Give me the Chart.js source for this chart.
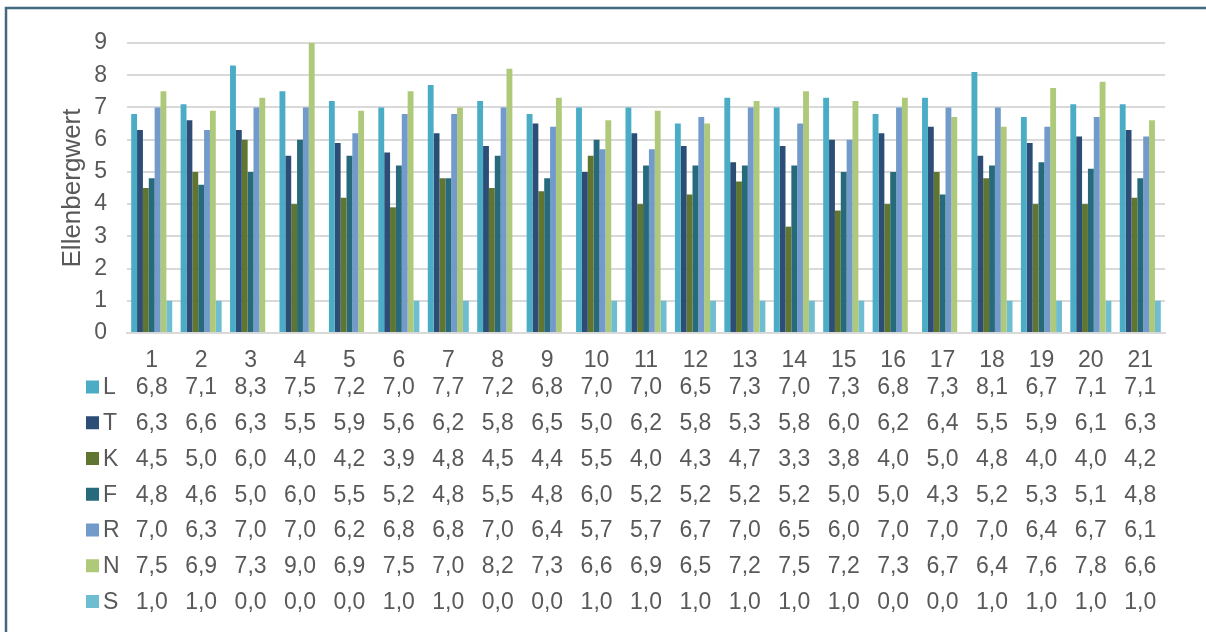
<!DOCTYPE html>
<html>
<head>
<meta charset="utf-8">
<script src="https://cdn.jsdelivr.net/npm/chart.js@4"></script>
<style>
  html, body { margin: 0; padding: 0; background: #fff; }
  #wrap { width: 1206px; height: 632px; }
</style>
</head>
<body>
<div id="wrap"><canvas id="chart" width="1206" height="632"></canvas></div>
<script>
// Aufnahmen 1-21, Ellenberg-Zeigerwerte
const categories = ['1', '2', '3', '4', '5', '6', '7', '8', '9', '10', '11', '12', '13', '14', '15', '16', '17', '18', '19', '20', '21'];
const seriesNames = ['L', 'T', 'K', 'F', 'R', 'N', 'S'];
const valuesL = [6.8, 7.1, 8.3, 7.5, 7.2, 7.0, 7.7, 7.2, 6.8, 7.0, 7.0, 6.5, 7.3, 7.0, 7.3, 6.8, 7.3, 8.1, 6.7, 7.1, 7.1];
const valuesT = [6.3, 6.6, 6.3, 5.5, 5.9, 5.6, 6.2, 5.8, 6.5, 5.0, 6.2, 5.8, 5.3, 5.8, 6.0, 6.2, 6.4, 5.5, 5.9, 6.1, 6.3];
const valuesK = [4.5, 5.0, 6.0, 4.0, 4.2, 3.9, 4.8, 4.5, 4.4, 5.5, 4.0, 4.3, 4.7, 3.3, 3.8, 4.0, 5.0, 4.8, 4.0, 4.0, 4.2];
const valuesF = [4.8, 4.6, 5.0, 6.0, 5.5, 5.2, 4.8, 5.5, 4.8, 6.0, 5.2, 5.2, 5.2, 5.2, 5.0, 5.0, 4.3, 5.2, 5.3, 5.1, 4.8];
const valuesR = [7.0, 6.3, 7.0, 7.0, 6.2, 6.8, 6.8, 7.0, 6.4, 5.7, 5.7, 6.7, 7.0, 6.5, 6.0, 7.0, 7.0, 7.0, 6.4, 6.7, 6.1];
const valuesN = [7.5, 6.9, 7.3, 9.0, 6.9, 7.5, 7.0, 8.2, 7.3, 6.6, 6.9, 6.5, 7.2, 7.5, 7.2, 7.3, 6.7, 6.4, 7.6, 7.8, 6.6];
const valuesS = [1.0, 1.0, 0.0, 0.0, 0.0, 1.0, 1.0, 0.0, 0.0, 1.0, 1.0, 1.0, 1.0, 1.0, 1.0, 0.0, 0.0, 1.0, 1.0, 1.0, 1.0];
const yTicks = [0, 1, 2, 3, 4, 5, 6, 7, 8, 9];

const colors = ['#4BACC6', '#2C4D75', '#5F7530', '#276A7C', '#729ACA', '#AFC97A', '#6FBDD1'];
const allValues = [valuesL, valuesT, valuesK, valuesF, valuesR, valuesN, valuesS];

const textColor = '#595959';
const fontFamily = '"Liberation Sans", Arial, sans-serif';

// Rahmen und Datentabelle unter der Achse
const tablePlugin = {
    id: 'dataTable',
    beforeDraw: function(chart) {
        const ctx = chart.ctx;
        ctx.save();
        ctx.fillStyle = '#fff';
        ctx.fillRect(0, 0, chart.width, chart.height);
        ctx.strokeStyle = '#41697F';
        ctx.lineWidth = 2.5;
        ctx.beginPath();
        ctx.moveTo(6, chart.height);
        ctx.lineTo(6, 8);
        ctx.lineTo(chart.width, 8);
        ctx.stroke();
        ctx.restore();
    },
    afterDraw: function(chart) {
        const ctx = chart.ctx;
        const xScale = chart.scales.x;
        const base = chart.chartArea.bottom;
        ctx.save();
        ctx.font = '23px ' + fontFamily;
        ctx.textBaseline = 'middle';
        seriesNames.forEach(function(name, row) {
            const y = base + 54 + row * 35.75;
            ctx.fillStyle = colors[row];
            ctx.fillRect(86, y - 6.5, 13, 13);
            ctx.fillStyle = textColor;
            ctx.textAlign = 'left';
            ctx.fillText(name, 103, y + 1);
            ctx.textAlign = 'center';
            allValues[row].forEach(function(v, i) {
                ctx.fillText(v.toFixed(1).replace('.', ','), xScale.getPixelForValue(i), y + 1);
            });
        });
        ctx.restore();
    }
};

const datasets = seriesNames.map(function(name, i) {
    return {
        label: name,
        data: allValues[i],
        backgroundColor: colors[i],
        borderWidth: 0,
        categoryPercentage: 0.83,
        barPercentage: 1.0
    };
});

const chart = new Chart(document.getElementById('chart').getContext('2d'), {
    type: 'bar',
    data: { labels: categories, datasets: datasets },
    plugins: [tablePlugin],
    options: {
        responsive: false,
        animation: false,
        layout: { padding: { left: 0, top: 43, right: 41, bottom: 0 } },
        plugins: {
            legend: { display: false },
            tooltip: { enabled: false }
        },
        scales: {
            x: {
                grid: { display: false },
                border: { display: true, color: '#D9D9D9', width: 2 },
                ticks: {
                    color: textColor,
                    font: { family: fontFamily, size: 23 },
                    padding: 6,
                    maxRotation: 0
                },
                afterFit: function(scale) { scale.height = 632 - 333; }
            },
            y: {
                min: 0,
                max: 9,
                afterBuildTicks: function(scale) {
                    scale.ticks = yTicks.map(function(v) { return { value: v }; });
                },
                grid: { color: '#D9D9D9', lineWidth: 2, drawTicks: false },
                border: { display: false },
                ticks: {
                    color: textColor,
                    font: { family: fontFamily, size: 23 },
                    padding: 20
                },
                title: {
                    display: true,
                    text: 'Ellenbergwert',
                    color: textColor,
                    font: { family: fontFamily, size: 26 },
                    padding: { top: 57, bottom: 0 }
                },
                afterFit: function(scale) { scale.width = 127; }
            }
        }
    }
});
</script>
</body>
</html>
